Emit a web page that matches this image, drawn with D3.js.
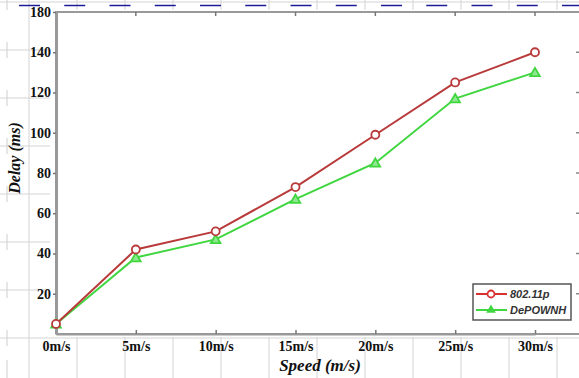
<!DOCTYPE html>
<html>
<head>
<meta charset="utf-8">
<script src="https://cdn.jsdelivr.net/npm/d3@7"></script>
<style>
  body { margin: 0; background: #fff; }
  svg { display: block; }
</style>
</head>
<body>
<div class="canvas"></div>
<script>
const speeds = [0, 5, 10, 15, 20, 25, 30]
const xTickLabels = ['0m/s', '5m/s', '10m/s', '15m/s', '20m/s', '25m/s', '30m/s']
const delay80211p = [5, 42, 51, 73, 99, 125, 140]
const delayDePOWNH = [5, 38, 47, 67, 85, 117, 130]
const yTickValues = [20, 40, 60, 80, 100, 120, 140, 160]
const yTickLabels = ['20', '40', '60', '80', '100', '120', '140', '180']
const seriesNames = ['802.11p', 'DePOWNH']

const width = 579
const height = 378
const serif = '"Liberation Serif", "Times New Roman", serif'

const svg = d3.select('.canvas')
    .append('svg')
    .attr('width', width)
    .attr('height', height)

// background table grid
const grid = svg.append('g').attr('class', 'grid')
for (let k = 0; k < 12; k++) {
    grid.append('line')
        .attr('x1', 29 + 48 * k).attr('x2', 29 + 48 * k)
        .attr('y1', 0).attr('y2', height)
        .attr('stroke', '#d4d4d4').attr('stroke-width', 1)
}
for (let k = 0; k < 9; k++) {
    const gy = 338 - 48 * k
    grid.append('line')
        .attr('x1', 0).attr('x2', width)
        .attr('y1', gy).attr('y2', gy)
        .attr('stroke', '#d4d4d4').attr('stroke-width', 1)
    grid.append('line')
        .attr('x1', 7).attr('x2', 7)
        .attr('y1', gy - 8).attr('y2', gy + 8)
        .attr('stroke', '#cfcfcf').attr('stroke-width', 1)
}
grid.append('line')
    .attr('x1', 7).attr('x2', 7).attr('y1', 360).attr('y2', height)
    .attr('stroke', '#cfcfcf')
for (let k = 0; k < 13; k++) {
    grid.append('line')
        .attr('x1', 19 + 45.25 * k).attr('x2', 40 + 45.25 * k)
        .attr('y1', 5.5).attr('y2', 5.5)
        .attr('stroke', '#1c1c96').attr('stroke-width', 1.5)
}

// chart image area
svg.append('rect')
    .attr('x', 50).attr('y', 10)
    .attr('width', width - 50).attr('height', 327)
    .attr('fill', '#fff')

// scales
const x = d3.scaleLinear().domain([0, 30]).range([56, 535])
const y = d3.scaleLinear().domain([0, 160]).range([334, 12])

// frame
const frame = svg.append('g').attr('class', 'frame')
frame.append('line')
    .attr('x1', x.range()[0] - 1).attr('x2', width)
    .attr('y1', y(160)).attr('y2', y(160))
    .attr('stroke', '#999').attr('stroke-width', 2)
frame.append('line')
    .attr('x1', x.range()[0]).attr('x2', width)
    .attr('y1', y(0)).attr('y2', y(0))
    .attr('stroke', '#999').attr('stroke-width', 2)

// top & right inward ticks
frame.selectAll('.top-tick')
    .data(speeds.slice(1)).enter()
    .append('line')
    .attr('x1', d => x(d)).attr('x2', d => x(d))
    .attr('y1', y(160)).attr('y2', y(160) + 4)
    .attr('stroke', '#777').attr('stroke-width', 1.5)
frame.selectAll('.right-tick')
    .data(yTickValues.slice(0, -1)).enter()
    .append('line')
    .attr('x1', width - 3).attr('x2', width)
    .attr('y1', d => y(d)).attr('y2', d => y(d))
    .attr('stroke', '#888').attr('stroke-width', 1.5)

// axes
const xAxis = d3.axisBottom(x)
    .tickValues(speeds)
    .tickSizeInner(-4)
    .tickSizeOuter(0)
    .tickPadding(7)
    .tickFormat((d, i) => xTickLabels[i])

const yAxis = d3.axisLeft(y)
    .tickValues(yTickValues)
    .tickSizeInner(3)
    .tickSizeOuter(0)
    .tickPadding(3)
    .tickFormat((d, i) => yTickLabels[i])

const xAxisGroup = svg.append('g')
    .attr('class', 'x-axis')
    .attr('transform', `translate(0, ${y(0)})`)
    .call(xAxis)

const yAxisGroup = svg.append('g')
    .attr('class', 'y-axis')
    .attr('transform', `translate(${x(0)}, 0)`)
    .call(yAxis)

xAxisGroup.select('.domain').attr('stroke', '#999').attr('stroke-width', 2)
yAxisGroup.select('.domain').attr('stroke', '#999').attr('stroke-width', 3)
svg.selectAll('.tick line').attr('stroke', '#777').attr('stroke-width', 1.5)
svg.selectAll('.tick text')
    .attr('fill', '#111')
    .style('font-family', serif)
    .style('font-weight', 'bold')
    .style('font-size', '14px')
yAxisGroup.selectAll('.tick text').attr('x', -5)

// axis titles
svg.append('text')
    .attr('transform', 'translate(20, 158) rotate(-90)')
    .attr('text-anchor', 'middle')
    .style('font-family', serif)
    .style('font-weight', 'bold')
    .style('font-style', 'italic')
    .style('font-size', '16px')
    .attr('fill', '#111')
    .text('Delay (ms)')

svg.append('text')
    .attr('x', 320).attr('y', 371)
    .attr('text-anchor', 'middle')
    .style('font-family', serif)
    .style('font-weight', 'bold')
    .style('font-style', 'italic')
    .style('font-size', '17px')
    .attr('fill', '#111')
    .text('Speed (m/s)')

// series
const series = [
    { name: seriesNames[0], values: delay80211p, color: '#b83a3a', legendColor: '#d93030', marker: 'circle' },
    { name: seriesNames[1], values: delayDePOWNH, color: '#3fd63f', legendColor: '#3fd63f', marker: 'triangle' }
]

const line = d3.line()
    .x((d, i) => x(speeds[i]))
    .y(d => y(d))

const lines = svg.append('g').attr('class', 'lines')

series.slice().reverse().forEach(s => {
    lines.append('path')
        .attr('d', line(s.values))
        .attr('fill', 'none')
        .attr('stroke', s.color)
        .attr('stroke-width', 2)
})

const triangle = d3.symbol().type(d3.symbolTriangle).size(40)

series.slice().reverse().forEach(s => {
    const g = lines.append('g')
    if (s.marker === 'circle') {
        g.selectAll('circle')
            .data(s.values).enter()
            .append('circle')
            .attr('cx', (d, i) => x(speeds[i]))
            .attr('cy', d => y(d))
            .attr('r', 4)
            .attr('fill', '#fff')
            .attr('stroke', s.color)
            .attr('stroke-width', 1.8)
    } else {
        g.selectAll('path')
            .data(s.values).enter()
            .append('path')
            .attr('d', triangle)
            .attr('transform', (d, i) => `translate(${x(speeds[i])}, ${y(d) + 1})`)
            .attr('fill', '#8fe88f')
            .attr('stroke', s.color)
            .attr('stroke-width', 1.8)
    }
})

// legend
const legend = svg.append('g').attr('transform', 'translate(473, 284)')
legend.append('rect')
    .attr('width', 98).attr('height', 36)
    .attr('fill', '#fff')
    .attr('stroke', '#555').attr('stroke-width', 1.5)

series.forEach((s, i) => {
    const ly = 10 + i * 16
    legend.append('line')
        .attr('x1', 3).attr('x2', 34)
        .attr('y1', ly).attr('y2', ly)
        .attr('stroke', s.legendColor).attr('stroke-width', 2)
    if (s.marker === 'circle') {
        legend.append('circle')
            .attr('cx', 18).attr('cy', ly).attr('r', 3.5)
            .attr('fill', '#fff').attr('stroke', s.legendColor).attr('stroke-width', 1.8)
    } else {
        legend.append('path')
            .attr('d', triangle)
            .attr('transform', `translate(18, ${ly})`)
            .attr('fill', s.legendColor)
    }
    legend.append('text')
        .attr('x', 37).attr('y', ly + 4)
        .style('font-family', '"Liberation Sans", Arial, sans-serif')
        .style('font-weight', 'bold')
        .style('font-style', 'italic')
        .style('font-size', '11px')
        .attr('fill', '#333')
        .text(s.name)
})
</script>
</body>
</html>
